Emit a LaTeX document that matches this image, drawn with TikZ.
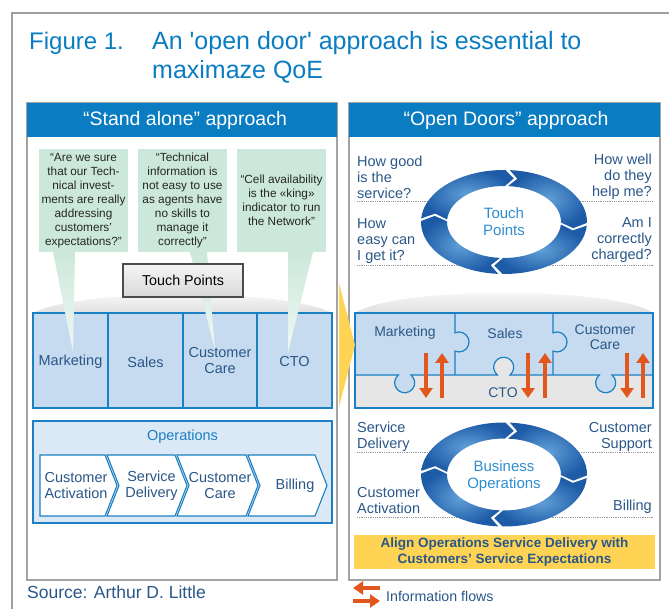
\documentclass[tikz,border=0pt]{standalone}
\usepackage{fontspec}
\setmainfont{Liberation Sans}
\usetikzlibrary{arrows.meta}

\definecolor{figblue}{HTML}{0A7CC1}
\definecolor{lineblue}{HTML}{1B80C3}
\definecolor{deptfill}{HTML}{C6DBEF}
\definecolor{opsfill}{HTML}{DBE8F5}
\definecolor{darktext}{HTML}{2A5788}
\definecolor{quotegreen}{HTML}{CCE8DA}
\definecolor{alignyellow}{HTML}{FFD455}
\definecolor{flowred}{HTML}{E2571E}
\definecolor{ringdark}{HTML}{1D5BA7}
\definecolor{ringlight}{HTML}{62A0D8}
\definecolor{ringblue}{HTML}{2E8DD0}
\definecolor{ctogray}{HTML}{E6E6E6}
\definecolor{framegray}{HTML}{A3A3A3}

\newcommand{\fs}[2]{\fontsize{#1}{#2}\selectfont}

\begin{document}
\begin{tikzpicture}[x=1pt,y=-1pt]
    \tikzset{panel/.style = {draw=framegray, line width=1.3pt}}
    \tikzset{header/.style = {fill=figblue}}
    \tikzset{headtext/.style = {text=white, font=\fs{19.5}{21}, inner sep=0}}
    \tikzset{quotebox/.style = {fill=quotegreen}}
    \tikzset{tail/.style = {top color=quotegreen, bottom color=quotegreen!30!white}}
    \tikzset{quotetext/.style = {align=center, font=\fs{11.8}{14}, text=black!85, inner sep=0}}
    \tikzset{dept/.style = {draw=lineblue, fill=deptfill, line width=1.2pt}}
    \tikzset{depttext/.style = {align=center, font=\fs{14.5}{16}, text=darktext, inner sep=0}}
    \tikzset{chevron/.style = {draw=lineblue, fill=white, line width=1.1pt}}
    \tikzset{corner/.style = {font=\fs{14.5}{16}, text=darktext, inner sep=0}}
    \tikzset{guide/.style = {draw=gray!80, densely dotted, line width=0.8pt}}
    \tikzset{ringseg/.style = {inner color=ringlight, outer color=ringdark}}
    \tikzset{ringtext/.style = {align=center, font=\fs{15}{17}, text=ringblue, inner sep=0}}
    \tikzset{flow/.style = {draw=flowred, line width=4pt, -{Triangle[width=13pt,length=10pt]}}}
    \tikzset{glow/.style = {top color=white, bottom color=gray!25}}
    \useasboundingbox (0,0) rectangle (669,609);

    % frame and title
    \draw[gray!75, line width=1.2pt] (12,609) -- (12,13) -- (669,13);
    \node[anchor=base west, text=figblue, font=\fs{24}{28}, inner sep=0] (fig) at (29,49.5) {Figure 1.};
    \node[anchor=base west, text=figblue, font=\fs{25}{28}, inner sep=0] (title) at (152,49.5) {An \textquotesingle open door\textquotesingle\ approach is essential to};
    \node[anchor=base west, text=figblue, font=\fs{25}{28}, inner sep=0] (title2) at (152,79) {maximaze QoE};

    % panels
    \draw[panel] (27,103) rectangle (337,580);
    \draw[panel] (349,103) rectangle (660,580);
    \fill[header] (27,103) rectangle (337,137);
    \fill[header] (349,103) rectangle (660,137);
    \node[headtext] (standalone) at (185,120) {“Stand alone” approach};
    \node[headtext] (opendoors) at (506,120) {“Open Doors” approach};

    % stand alone: departments
    \shade[glow] (33,313) .. controls (80,288) and (285,288) .. (332,313) -- cycle;
    \foreach \a/\b in {33/108,108/183,183/257,257/332}
        \draw[dept] (\a,313) rectangle (\b,408);
    \node[depttext] (mkt) at (70.5,362) {Marketing};
    \node[depttext] (sales) at (145.5,362) {Sales};
    \node[depttext] (care) at (220,361) {Customer\\Care};
    \node[depttext] (cto) at (294.5,362) {CTO};

    % quotes
    \fill[quotebox] (39,149) rectangle (128,252);
    \fill[quotebox] (138,149) rectangle (227,252);
    \fill[quotebox] (237,149) rectangle (326,252);
    \shade[tail] (53,252) -- (75,252) -- (73,352) -- cycle;
    \shade[tail] (190,252) -- (207,252) -- (215,350) -- cycle;
    \shade[tail] (288,252) -- (313,252) -- (288,352) -- cycle;
    \node[quotetext] (q1) at (83.5,200.5) {“Are we sure\\that our Tech-\\nical invest-\\ments are really\\addressing\\customers’\\expectations?”};
    \node[quotetext] (q2) at (182.5,200.5) {“Technical\\information is\\not easy to use\\as agents have\\no skills to\\manage it\\correctly”};
    \node[quotetext] (q3) at (281.5,200) {“Cell availability\\is the «king»\\indicator to run\\the Network”};
    \node[draw=gray!60!black, line width=1.5pt, top color=gray!8, bottom color=gray!30,
        minimum width=120pt, minimum height=33pt, font=\fs{14.3}{16}, inner sep=0] (tp) at (183,280.5) {Touch Points};

    % operations
    \draw[dept, fill=opsfill] (33,421) rectangle (332,523);
    \node[font=\fs{14.5}{16}, text=lineblue, inner sep=0] (ops) at (182.5,437) {Operations};
    \draw[chevron] (40,455) -- (105,455) -- (117,485.5) -- (105,516) -- (40,516) -- cycle;
    \foreach \a/\b in {107/175,177/246,248/315}
        \draw[chevron] (\a,455) -- (\b,455) -- (\b+12,485.5) -- (\b,516) -- (\a,516) -- (\a+12,485.5) -- cycle;
    \node[depttext] (act) at (76,485.5) {Customer\\Activation};
    \node[depttext] (deliv) at (151.5,485.5) {Service\\Delivery};
    \node[depttext] (ccare) at (220,485.5) {Customer\\Care};
    \node[depttext] (bill) at (295,486) {Billing};

    % open doors: guides under the rings
    \draw[guide] (357,201) -- (442,201);
    \draw[guide] (569,201) -- (653,201);
    \draw[guide] (357,265) -- (462,265);
    \draw[guide] (548,265) -- (653,265);
    \draw[guide] (357,452) -- (443,452);
    \draw[guide] (570,452) -- (653,452);
    \draw[guide] (357,517) -- (460,517);
    \draw[guide] (548,517) -- (653,517);

    % rings of four arrows
    \foreach \cy in {222,474.5} {
        \begin{scope}[shift={(504,\cy)}]
        \foreach \s in {-86,4,94,184} {
            \pgfmathsetmacro\e{\s+87}
            \pgfmathsetmacro\t{\e+7}
            \pgfmathsetmacro\n{\s+7}
            \shade[ringseg] (\s:83 and 52) arc[start angle=\s, end angle=\e, x radius=83, y radius=52]
                -- (\t:70 and 44) -- (\e:57 and 36)
                arc[start angle=\e, end angle=\s, x radius=57, y radius=36] -- (\n:70 and 44) -- cycle;
        }
        \end{scope}
    }
    \node[ringtext] (tpring) at (504,222) {Touch\\Points};
    \node[ringtext] (bizops) at (504,476) {Business\\Operations};

    \node[corner, anchor=west, align=left] (good) at (357,177) {How good\\is the\\service?};
    \node[corner, anchor=east, align=right] (well) at (652,177) {How well\\do they\\help me?};
    \node[corner, anchor=west, align=left] (easy) at (357,241) {How\\easy can\\I get it?};
    \node[corner, anchor=east, align=right] (charged) at (652,240) {Am I\\correctly\\charged?};
    \node[corner, anchor=west, align=left] (sdeliv) at (357,437) {Service\\Delivery};
    \node[corner, anchor=east, align=right] (support) at (652,437) {Customer\\Support};
    \node[corner, anchor=west, align=left] (cact) at (357,501) {Customer\\Activation};
    \node[corner, anchor=east, align=right] (billing) at (652,507) {Billing};

    % puzzle
    \shade[glow] (355,313) .. controls (395,286) and (615,286) .. (653,313) -- cycle;
    \fill[ctogray] (355,313) rectangle (653,408);
    \draw[dept] (355,313) -- (653,313) -- (653,375)
        -- (612,375) arc[start angle=-51, end angle=231, radius=10]
        -- (510,375) arc[start angle=51, end angle=-231, radius=10]
        -- (411,375) arc[start angle=-51, end angle=231, radius=10]
        -- (355,375) -- cycle;
    \draw[lineblue, line width=1.2pt] (355,313) rectangle (653,408);
    \foreach \x in {455,553}
        \draw[lineblue, line width=1.2pt] (\x,313) -- (\x,332.8) arc[start angle=-113.6, end angle=113.6, radius=10] -- (\x,375);
    \node[depttext, font=\fs{14}{16}] (pmkt) at (405,333) {Marketing};
    \node[depttext, font=\fs{14}{16}] (psales) at (505,333) {Sales};
    \node[depttext, font=\fs{14}{15}] (pcare) at (605,337.5) {Customer\\Care};
    \node[depttext, font=\fs{14}{16}] (pcto) at (503,393) {CTO};

    % information flows
    \foreach \d/\u in {426/442,528/545,627/643} {
        \coordinate (dn\d) at (\d,353);
        \coordinate (dnend\d) at (\d,398);
        \coordinate (up\u) at (\u,398);
        \coordinate (upend\u) at (\u,353);
        \draw[flow] (dn\d) -- (dnend\d);
        \draw[flow] (up\u) -- (upend\u);
    }

    \node[fill=alignyellow, minimum width=301pt, minimum height=34pt, inner sep=0, align=center,
        font=\bfseries\fs{13.5}{16}, text=darktext] (align) at (504.5,552) {Align Operations Service Delivery with\\Customers’ Service Expectations};

    % arrow between the panels
    \fill[alignyellow] (339,283) -- (355,345) -- (339,407) -- cycle;

    % source and legend
    \node[anchor=west, font=\fs{17.5}{19}, text=darktext, inner sep=0] (source) at (27,592) {Source: Arthur D. Little};
    \coordinate (lgA) at (380,588);
    \coordinate (lgB) at (353,588);
    \coordinate (lgC) at (353,601);
    \coordinate (lgD) at (380,601);
    \draw[flow] (lgA) -- (lgB);
    \draw[flow] (lgC) -- (lgD);
    \node[anchor=west, font=\fs{14.2}{16}, text=darktext, inner sep=0] (legend) at (386,596) {Information flows};
\end{tikzpicture}
\end{document}
